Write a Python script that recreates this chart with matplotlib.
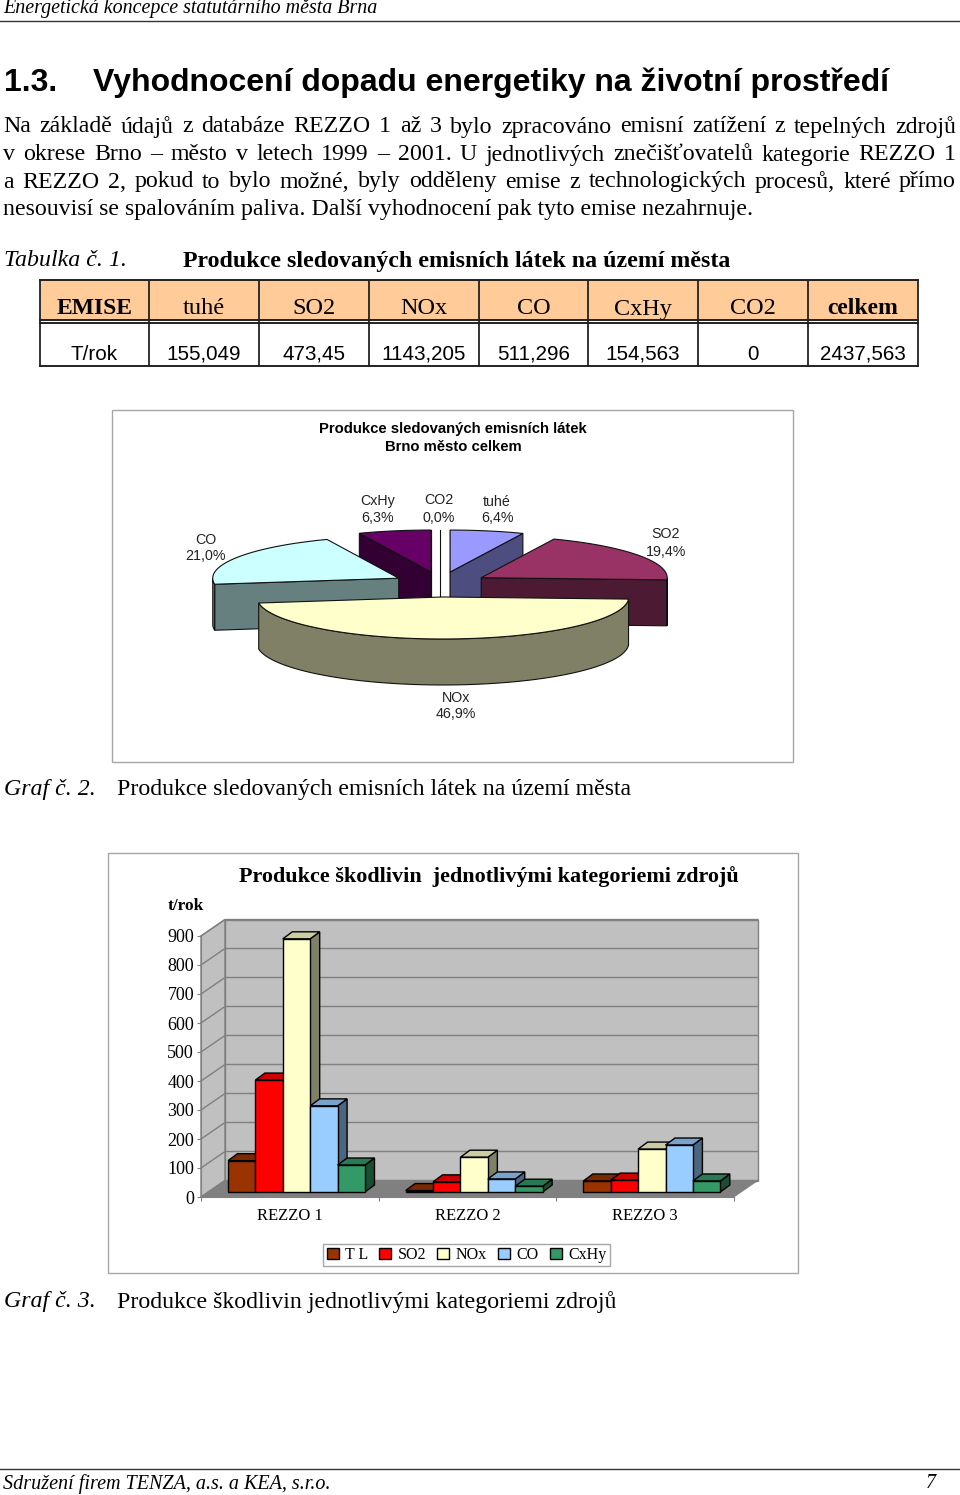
import numpy as np
import matplotlib
matplotlib.use('Agg')
import matplotlib.pyplot as plt
from matplotlib.patches import Rectangle

SERIF = 'Liberation Serif'
SANS = 'Liberation Sans'

# table
table_head = ['EMISE', 'tuhé', 'SO2', 'NOx', 'CO', 'CxHy', 'CO2', 'celkem']
table_vals = ['T/rok', '155,049', '473,45', '1143,205', '511,296', '154,563', '0', '2437,563']

# pie
pie_names = ['tuhé', 'SO2', 'NOx', 'CO', 'CxHy', 'CO2']
pie_vals = [6.4, 19.4, 46.9, 21.0, 6.3, 0.0]
pie_top = ['#9999FF', '#993366', '#FFFFCC', '#CCFFFF', '#660066', '#FFFFFF']
pie_side = ['#4D4D80', '#4D1A33', '#808066', '#668080', '#330033', '#FFFFFF']

# bars
groups = ['REZZO 1', 'REZZO 2', 'REZZO 3']
series = ['T L', 'SO2', 'NOx', 'CO', 'CxHy']
tl = [108, 5, 38]
so2 = [386, 35, 41]
nox = [873, 120, 148]
co = [297, 45, 162]
cxhy = [93, 20, 38]
bar_face = ['#993300', '#FF0000', '#FFFFCC', '#99CCFF', '#339966']
bar_topc = ['#7A2900', '#CC0000', '#CCCCA3', '#7AA3CC', '#297A52']
bar_sidec = ['#4D1A00', '#800000', '#808066', '#4D6680', '#1A4D33']

fig = plt.figure(figsize=(9.6, 14.95), dpi=100)
page = fig.add_axes([0, 0, 1, 1])
page.set_xlim(0, 960)
page.set_ylim(1495, 0)
page.axis('off')


def txt(x, y, s, size, family=SERIF, ha='left', **kw):
  return page.text(x, y, s, fontsize=size, family=family, ha=ha, va='center', zorder=30, **kw)


def justify(x0, x1, y, s, size):
  # spread the words of a line between x0 and x1
  rend = fig.canvas.get_renderer()
  words = s.split(' ')
  items = [txt(0, y, w, size) for w in words]
  widths = [t.get_window_extent(rend).width for t in items]
  gap = (x1 - x0 - sum(widths)) / (len(words) - 1)
  x = x0
  for t, w in zip(items, widths):
    t.set_x(x)
    x += w + gap


# header, footer
txt(3, 9, 'Energetická koncepce statutárního města Brna', 14.4, style='italic')
page.plot([0, 960], [20.5, 20.5], color='#333333', lw=1)
page.plot([0, 960], [1468.5, 1468.5], color='#333333', lw=1)
txt(3, 1484, 'Sdružení firem TENZA, a.s. a KEA, s.r.o.', 14.5, style='italic')
txt(931, 1484, '7', 14.5, ha='center', style='italic')

# heading and body
txt(4, 83, '1.3.', 23, SANS, weight='bold')
txt(93, 83, 'Vyhodnocení dopadu energetiky na životní prostředí', 23, SANS, weight='bold')
justify(3, 956, 127, 'Na základě údajů z databáze REZZO 1 až 3 bylo zpracováno emisní zatížení z tepelných zdrojů', 17.2)
justify(3, 956, 155, 'v okrese Brno – město v letech 1999 – 2001. U jednotlivých znečišťovatelů kategorie REZZO 1', 17.2)
justify(3, 956, 182, 'a REZZO 2, pokud to bylo možné, byly odděleny emise z technologických procesů, které přímo', 17.2)
txt(3, 210, 'nesouvisí se spalováním paliva. Další vyhodnocení pak tyto emise nezahrnuje.', 17.2)

txt(4, 261, 'Tabulka č. 1.', 17.2, style='italic')
txt(183, 261, 'Produkce sledovaných emisních látek na území města', 17.2, weight='bold')

# table
col_x = [39.5, 149, 259, 369, 479, 588, 698, 808, 918]
page.add_patch(Rectangle((col_x[0], 279.5), col_x[-1] - col_x[0], 40.5, fc='#FFCC99', ec='none'))
for yy in [279.5, 320, 323, 365.5]:
  page.plot([col_x[0], col_x[-1]], [yy, yy], color='#111111', lw=1.3)
for xx in col_x:
  page.plot([xx, xx], [279.5, 365.5], color='#222222', lw=1.3)
for i, (h, v) in enumerate(zip(table_head, table_vals)):
  xc = (col_x[i] + col_x[i + 1]) / 2
  bold = h in ('EMISE', 'celkem')
  txt(xc, 309, h, 17 if bold else 17.5, ha='center', weight='bold' if bold else 'normal')
  txt(xc, 354, v, 14.9, SANS, ha='center')

# pie chart box
page.add_patch(Rectangle((111.5, 409.5), 681, 352, fc='white', ec='#A6A6A6', lw=1, zorder=1))
txt(453, 429, 'Produkce sledovaných emisních látek', 10.7, SANS, ha='center', weight='bold')
txt(453, 447, 'Brno město celkem', 10.7, SANS, ha='center', weight='bold')

cx, cy = 440.5, 584.4
ra, rb = 186, 42
ex, ey = 48, 12.6
depth = 46
start = np.cumsum([0] + pie_vals[:-1]) * 3.6
stop = np.cumsum(pie_vals) * 3.6
layer = [2]


def face(xs, ys, col):
  layer[0] += 0.01
  page.fill(xs, ys, facecolor=col, edgecolor='#111111', lw=0.8, zorder=layer[0])


# back slices first, NOx comes last
for i in [5, 4, 0, 1, 3, 2]:
  mid = np.radians((start[i] + stop[i]) / 2)
  ax0 = cx + ex * np.sin(mid)
  ay0 = cy - ey * np.cos(mid)
  ang = np.linspace(start[i], stop[i], 80)
  xs = ax0 + ra * np.sin(np.radians(ang))
  ys = ay0 - rb * np.cos(np.radians(ang))
  if pie_vals[i] == 0:
    layer[0] += 0.01
    page.plot([ax0, ax0], [ys[0], ay0 + depth], color='#111111', lw=0.8, zorder=layer[0])
    continue
  for b, sign in ((start[i], -90), (stop[i], 90)):
    if np.cos(np.radians(b + sign)) < 0.01:
      ex0 = ax0 + ra * np.sin(np.radians(b))
      ey0 = ay0 - rb * np.cos(np.radians(b))
      face([ax0, ex0, ex0, ax0], [ay0, ey0, ey0 + depth, ay0 + depth], pie_side[i])
  front = (ang > 90) & (ang < 270)
  if front.any():
    fx, fy = xs[front], ys[front]
    face(np.r_[fx, fx[::-1]], np.r_[fy, fy[::-1] + depth], pie_side[i])
  face(np.r_[ax0, xs], np.r_[ay0, ys], pie_top[i])

pie_lab_pos = [(497, 510), (666, 543), (456, 706), (206, 548), (378, 510), (439, 509)]
for n, v, p in zip(pie_names, pie_vals, pie_lab_pos):
  txt(p[0], p[1] - 8.5, n, 10.3, SANS, ha='center', color='#222222')
  txt(p[0], p[1] + 8.5, f'{v:.1f}%'.replace('.', ','), 10.3, SANS, ha='center', color='#222222')

txt(4, 789, 'Graf č. 2.', 17.2, style='italic')
txt(117, 789, 'Produkce sledovaných emisních látek na území města', 17.2)

# bar chart box
page.add_patch(Rectangle((107.5, 852.5), 690, 420, fc='white', ec='#A6A6A6', lw=1, zorder=1))
txt(239, 877, 'Produkce škodlivin  jednotlivými kategoriemi zdrojů', 15.9, weight='bold')
txt(168, 906, 't/rok', 12.4, weight='bold')

ax = fig.add_axes([201 / 960, 1 - 1197 / 1495, 533 / 960, 261 / 1495], zorder=3)
ax.patch.set_visible(False)
ax.set_xlim(0, 3)
ax.set_ylim(0, 900)
for sp in ['top', 'right']:
  ax.spines[sp].set_visible(False)
for sp in ['left', 'bottom']:
  ax.spines[sp].set_color('#808080')

# depth of the walls and of the bars, in data units
wall_dx, wall_dy = 24 / 177.7, 16.5 * 900 / 261
bar_dx, bar_dy = 9.5 / 177.7, 7 * 900 / 261
base = 5 * 900 / 261
ticks = np.arange(0, 1000, 100)

ax.fill([0, wall_dx, wall_dx, 0], [0, wall_dy, 900 + wall_dy, 900], facecolor='#C0C0C0', edgecolor='#808080', lw=1, clip_on=False)
ax.fill([wall_dx, 3 + wall_dx, 3 + wall_dx, wall_dx], [wall_dy, wall_dy, 900 + wall_dy, 900 + wall_dy], facecolor='#C0C0C0', edgecolor='#808080', lw=1, clip_on=False)
ax.fill([0, 3, 3 + wall_dx, wall_dx], [0, 0, wall_dy, wall_dy], facecolor='#808080', edgecolor='#808080', lw=0.5, clip_on=False)
for t in ticks:
  ax.plot([0, wall_dx, 3 + wall_dx], [t, t + wall_dy, t + wall_dy], color='#808080', lw=1, clip_on=False, zorder=1.5)

bar_w = 27.4 / 177.7
handles = [Rectangle((0, 0), 1, 1, fc=c, ec='black', lw=1) for c in bar_face]
all_vals = [tl, so2, nox, co, cxhy]
for g in range(3):
  for j in range(5):
    v = all_vals[j][g]
    x0 = g + 0.152 + j * bar_w
    x1 = x0 + bar_w
    top = base + v
    z = 3 + g * 5 + j
    ax.fill([x1, x1 + bar_dx, x1 + bar_dx, x1], [base, base + bar_dy, top + bar_dy, top], facecolor=bar_sidec[j], edgecolor='black', lw=1, clip_on=False, zorder=z)
    ax.fill([x0, x0 + bar_dx, x1 + bar_dx, x1], [top, top + bar_dy, top + bar_dy, top], facecolor=bar_topc[j], edgecolor='black', lw=1, clip_on=False, zorder=z)
    ax.bar(x0, v, bar_w, bottom=base, align='edge', color=bar_face[j], edgecolor='black', lw=1, clip_on=False, zorder=z)

ax.set_yticks(ticks)
ax.set_yticklabels([str(t) for t in ticks], family=SERIF, fontsize=13)
ax.set_xticks([0, 1, 2, 3])
ax.set_xticklabels([])
ax.set_xticks([0.5, 1.5, 2.5], minor=True)
ax.set_xticklabels(groups, minor=True, family=SERIF, fontsize=12)
ax.tick_params(axis='both', which='major', color='#808080', length=3, width=0.8, pad=2)
ax.tick_params(axis='x', which='minor', length=0, pad=8)

leg = ax.legend(handles, series, loc='center', bbox_to_anchor=(466.5, 1255), bbox_transform=page.transData,
                ncol=5, frameon=True, fancybox=False, edgecolor='#A6A6A6', framealpha=1,
                prop={'family': SERIF, 'size': 11.5}, handlelength=0.75, handleheight=0.75,
                handletextpad=0.4, columnspacing=0.7, borderpad=0.2, borderaxespad=0)
leg.set_zorder(40)

txt(4, 1302, 'Graf č. 3.', 17.2, style='italic')
txt(117, 1302, 'Produkce škodlivin jednotlivými kategoriemi zdrojů', 17.2)

fig.savefig('out.png', dpi=100)
